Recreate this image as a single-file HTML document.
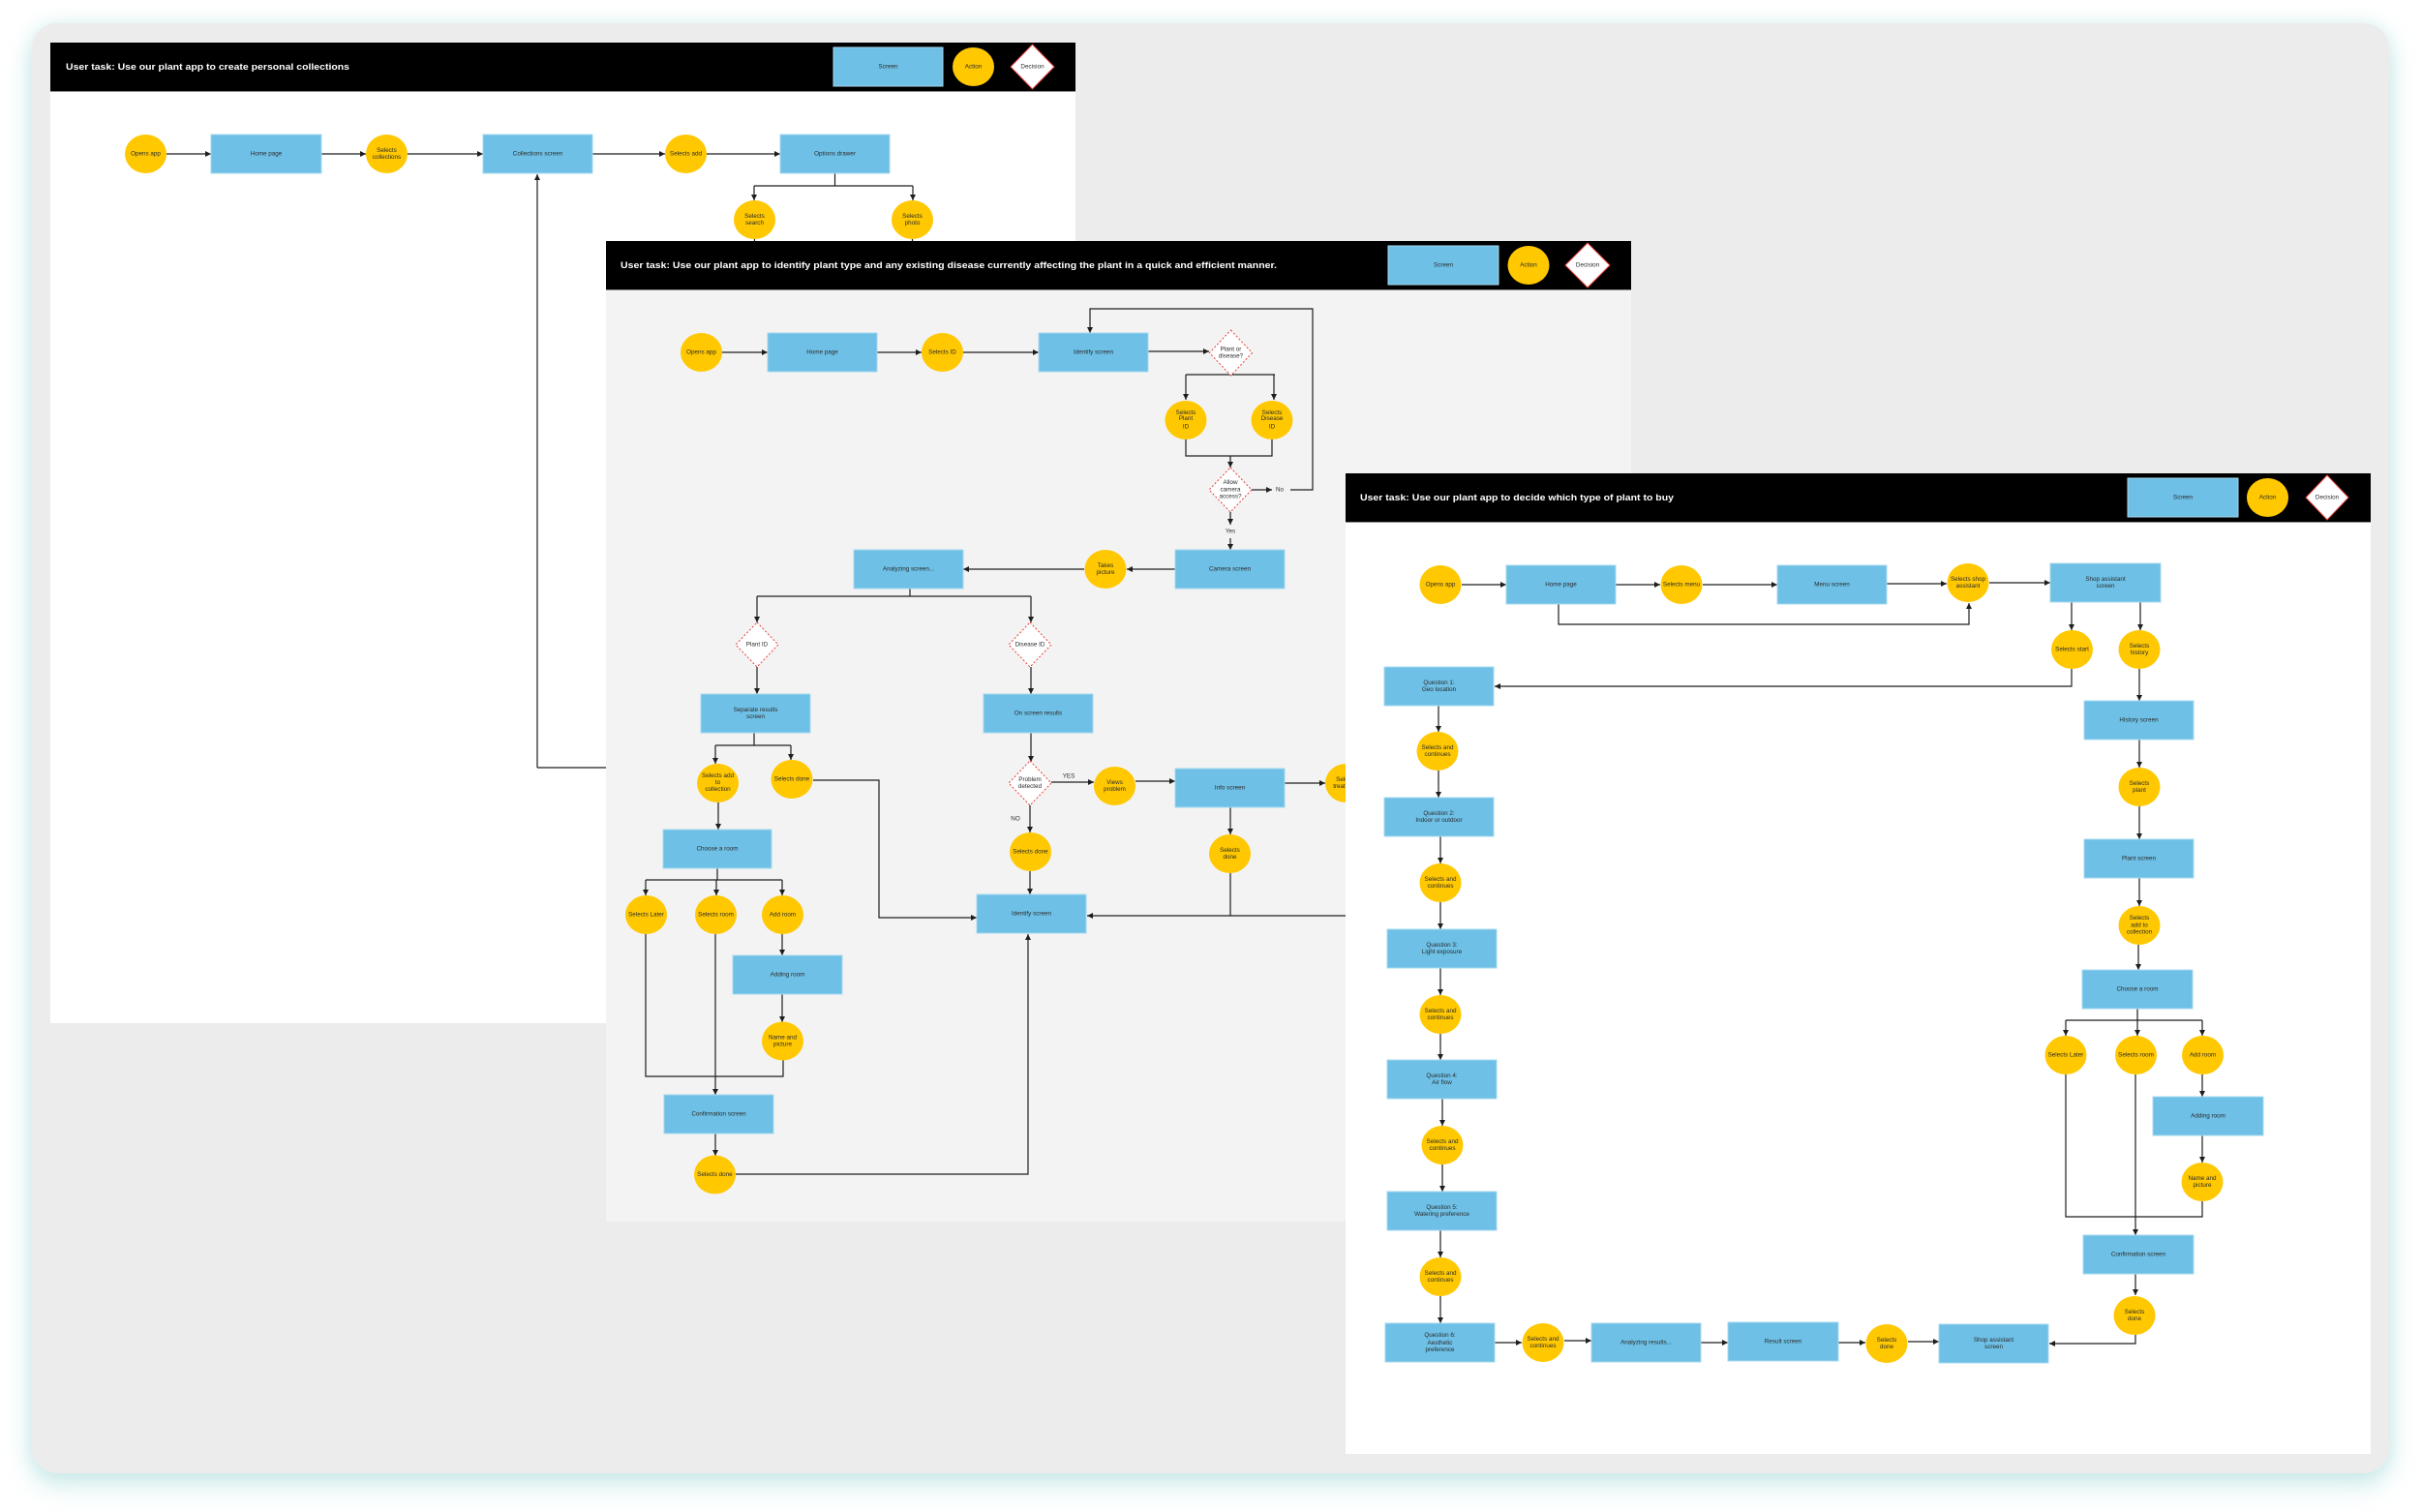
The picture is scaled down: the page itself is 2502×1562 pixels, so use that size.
<!DOCTYPE html>
<html><head><meta charset="utf-8"><style>
html,body{margin:0;padding:0;background:#fff;}
body{width:2502px;height:1562px;position:relative;overflow:hidden;}
#card{position:absolute;left:33px;top:24px;width:2435px;height:1498px;border-radius:26px;background:#ececec;box-shadow:0 12px 26px rgba(120,200,200,0.35),0 0 18px rgba(160,215,215,0.3);}
svg{position:absolute;left:0;top:0;}
.s{fill:#6ec0e6;stroke:#a6d9ef;stroke-width:1}
.c{fill:#ffc800}
.d{fill:#fff;stroke:#e8403a;stroke-width:1;stroke-dasharray:2 2}
.dl{fill:#fff;stroke:#e8403a;stroke-width:1}
.l{fill:none;stroke:#1e1e1e;stroke-width:1.2}
.a{fill:none;stroke:#1e1e1e;stroke-width:1.2;marker-end:url(#ar)}
.t{font-family:"Liberation Sans",sans-serif;font-size:6.3px;fill:#2b2b2b;text-anchor:middle;dominant-baseline:central}
.h{font-family:"Liberation Sans",sans-serif;font-size:9.5px;font-weight:bold;fill:#fff}
</style></head><body>
<div id="card"></div>
<svg width="2502" height="1562" viewBox="0 0 2502 1562" xmlns="http://www.w3.org/2000/svg">
<defs><marker id="ar" markerUnits="userSpaceOnUse" markerWidth="6" markerHeight="6" refX="6" refY="3" orient="auto"><path d="M0,0 L6,3 L0,6 z" fill="#1e1e1e"/></marker></defs>

<!-- PANEL 1 -->
<rect x="52" y="44" width="1059" height="1013" fill="#fff"/>
<rect x="52" y="44" width="1059" height="50" fill="#000"/>
<line x1="52" y1="94.5" x2="1111" y2="94.5" stroke="#8c8c8c"/>
<text class="h" x="68" y="72" textLength="293" lengthAdjust="spacingAndGlyphs">User task: Use our plant app to create personal collections</text>
<rect class="s" x="861" y="49" width="113" height="40"/><text class="t" x="917.5" y="69">Screen</text>
<ellipse class="c" cx="1005.5" cy="69" rx="21.5" ry="20"/><text class="t" x="1005.5" y="69">Action</text>
<polygon class="dl" points="1066.5,46 1089,69 1066.5,92 1044,69"/><text class="t" x="1066.5" y="69">Decision</text>

<path class="a" d="M172 159H218"/><path class="a" d="M332 159H378"/><path class="a" d="M421 159H499"/><path class="a" d="M612 159H687"/><path class="a" d="M730 159H806"/>
<path class="l" d="M862.5 179V192M779 192H943"/><path class="a" d="M779 192V207"/><path class="a" d="M943 192V207"/>
<path class="l" d="M779.5 247V260M942.5 247V260"/>
<path class="l" d="M626 793H555"/><path class="a" d="M555 793V180"/>
<ellipse class="c" cx="150.5" cy="159" rx="21.5" ry="20"/><text class="t" x="150.5" y="159">Opens app</text>
<rect class="s" x="218" y="139" width="114" height="40"/><text class="t" x="275" y="159">Home page</text>
<ellipse class="c" cx="399.5" cy="159" rx="21.5" ry="20"/><text class="t" x="399.5" y="155.5">Selects</text><text class="t" x="399.5" y="162.5">collections</text>
<rect class="s" x="499" y="139" width="113" height="40"/><text class="t" x="555.5" y="159">Collections screen</text>
<ellipse class="c" cx="708.5" cy="159" rx="21.5" ry="20"/><text class="t" x="708.5" y="159">Selects add</text>
<rect class="s" x="806" y="139" width="113" height="40"/><text class="t" x="862.5" y="159">Options drawer</text>
<ellipse class="c" cx="779.5" cy="227" rx="21.5" ry="20"/><text class="t" x="779.5" y="223.5">Selects</text><text class="t" x="779.5" y="230.5">search</text>
<ellipse class="c" cx="942.5" cy="227" rx="21.5" ry="20"/><text class="t" x="942.5" y="223.5">Selects</text><text class="t" x="942.5" y="230.5">photo</text>

<!-- PANEL 2 -->
<rect x="626" y="249" width="1059" height="1013" fill="#f3f3f3"/>
<rect x="626" y="249" width="1059" height="50" fill="#000"/>
<line x1="626" y1="299.5" x2="1685" y2="299.5" stroke="#8c8c8c"/>
<text class="h" x="641" y="277" textLength="678" lengthAdjust="spacingAndGlyphs">User task: Use our plant app to identify plant type and any existing disease currently affecting the plant in a quick and efficient manner.</text>
<rect class="s" x="1434" y="254" width="114" height="40"/><text class="t" x="1491" y="274">Screen</text>
<ellipse class="c" cx="1579" cy="274" rx="21.5" ry="20"/><text class="t" x="1579" y="274">Action</text>
<polygon class="dl" points="1640,251 1663,274 1640,297 1617,274"/><text class="t" x="1640" y="274">Decision</text>

<path class="a" d="M746 364H793"/><path class="a" d="M906 364H952"/><path class="a" d="M995 364H1073"/><path class="a" d="M1186 363H1249"/>
<path class="a" d="M1333 506H1356V319H1126V344"/>
<path class="l" d="M1225 387H1317"/><path class="a" d="M1225 387V413"/><path class="a" d="M1316 387V413"/>
<path class="l" d="M1225 454V471H1314V454"/><path class="a" d="M1271 471V483"/>
<path class="a" d="M1293 506H1314"/><text class="t" x="1322" y="506">No</text>
<path class="a" d="M1271 529V542"/><text class="t" x="1271" y="549">Yes</text><path class="a" d="M1271 556V568"/>
<path class="a" d="M1214 588H1164"/><path class="a" d="M1120 588H995"/>
<path class="l" d="M940 608V616M782 616H1065"/><path class="a" d="M782 616V643"/><path class="a" d="M1065 616V643"/>
<path class="a" d="M782 689V717"/><path class="a" d="M1065 689V717"/>
<path class="l" d="M779 757V770M739 770H817"/><path class="a" d="M739 770V789"/><path class="a" d="M817 770V785"/>
<path class="a" d="M840 806H908V948H1009"/>
<path class="a" d="M742 829V857"/>
<path class="l" d="M741 897V909M667 909H808"/><path class="a" d="M667 909V925"/><path class="a" d="M740 909V925"/><path class="a" d="M808 909V925"/>
<path class="l" d="M667 965V1112H809V1095"/>
<path class="a" d="M739 965V1131"/><path class="a" d="M808 965V987"/><path class="a" d="M808 1027V1056"/>
<path class="a" d="M739 1171V1194"/>
<path class="a" d="M760 1213H1062V965"/>
<path class="a" d="M1065 757V787"/>
<path class="a" d="M1086 808H1130"/><path class="a" d="M1173 807H1214"/><path class="a" d="M1327 809H1369"/>
<path class="a" d="M1064 832V860"/><path class="a" d="M1064 900V924"/>
<path class="a" d="M1271 834V862"/><path class="l" d="M1271 902V946"/>
<path class="a" d="M1390 946H1123"/>

<ellipse class="c" cx="724.5" cy="364" rx="21.5" ry="20"/><text class="t" x="724.5" y="364">Opens app</text>
<rect class="s" x="793" y="344" width="113" height="40"/><text class="t" x="849.5" y="364">Home page</text>
<ellipse class="c" cx="973.5" cy="364" rx="21.5" ry="20"/><text class="t" x="973.5" y="364">Selects ID</text>
<rect class="s" x="1073" y="344" width="113" height="40"/><text class="t" x="1129.5" y="364">Identify screen</text>
<polygon class="d" points="1271.5,341 1293.5,364.5 1271.5,388 1249.5,364.5"/><text class="t" x="1271.5" y="361">Plant or</text><text class="t" x="1271.5" y="368">disease?</text>
<ellipse class="c" cx="1225" cy="434" rx="21.5" ry="20"/><text class="t" x="1225" y="426.5">Selects</text><text class="t" x="1225" y="432.5">Plant</text><text class="t" x="1225" y="441">ID</text>
<ellipse class="c" cx="1314" cy="434" rx="21.5" ry="20"/><text class="t" x="1314" y="426.5">Selects</text><text class="t" x="1314" y="432.5">Disease</text><text class="t" x="1314" y="441">ID</text>
<polygon class="d" points="1271,483 1293,506 1271,529 1249,506"/><text class="t" x="1271" y="498.5">Allow</text><text class="t" x="1271" y="506">camera</text><text class="t" x="1271" y="513">access?</text>
<rect class="s" x="1214" y="568" width="113" height="40"/><text class="t" x="1270.5" y="588">Camera screen</text>
<ellipse class="c" cx="1142" cy="588" rx="21.5" ry="20"/><text class="t" x="1142" y="584.5">Takes</text><text class="t" x="1142" y="591.5">picture</text>
<rect class="s" x="882" y="568" width="113" height="40"/><text class="t" x="938.5" y="588">Analyzing screen...</text>
<polygon class="d" points="782,643 804,666 782,689 760,666"/><text class="t" x="782" y="666">Plant ID</text>
<polygon class="d" points="1064,643 1086,666 1064,689 1042,666"/><text class="t" x="1064" y="666">Disease ID</text>
<rect class="s" x="724" y="717" width="113" height="40"/><text class="t" x="780.5" y="733.5">Separate results</text><text class="t" x="780.5" y="740.5">screen</text>
<rect class="s" x="1016" y="717" width="113" height="40"/><text class="t" x="1072.5" y="737">On screen results</text>
<ellipse class="c" cx="741.5" cy="809" rx="21.5" ry="20"/><text class="t" x="741.5" y="801.5">Selects add</text><text class="t" x="741.5" y="808.5">to</text><text class="t" x="741.5" y="815.5">collection</text>
<ellipse class="c" cx="818" cy="805" rx="21.5" ry="20"/><text class="t" x="818" y="805">Selects done</text>
<rect class="s" x="685" y="857" width="112" height="40"/><text class="t" x="741" y="877">Choose a room</text>
<ellipse class="c" cx="667.5" cy="945" rx="21.5" ry="20"/><text class="t" x="667.5" y="945">Selects Later</text>
<ellipse class="c" cx="739.5" cy="945" rx="21.5" ry="20"/><text class="t" x="739.5" y="945">Selects room</text>
<ellipse class="c" cx="808.5" cy="945" rx="21.5" ry="20"/><text class="t" x="808.5" y="945">Add room</text>
<rect class="s" x="757" y="987" width="113" height="40"/><text class="t" x="813.5" y="1007">Adding room</text>
<ellipse class="c" cx="808.5" cy="1075.5" rx="21.5" ry="20"/><text class="t" x="808.5" y="1072">Name and</text><text class="t" x="808.5" y="1079">picture</text>
<rect class="s" x="686" y="1131" width="113" height="40"/><text class="t" x="742.5" y="1151">Confirmation screen</text>
<ellipse class="c" cx="738.5" cy="1213.5" rx="21.5" ry="20"/><text class="t" x="738.5" y="1213.5">Selects done</text>
<polygon class="d" points="1064,786 1086,809 1064,832 1042,809"/><text class="t" x="1064" y="805.5">Problem</text><text class="t" x="1064" y="812.5">detected</text>
<text class="t" x="1104" y="802">YES</text><text class="t" x="1049" y="846">NO</text>
<ellipse class="c" cx="1151.5" cy="812" rx="21.5" ry="20"/><text class="t" x="1151.5" y="808.5">Views</text><text class="t" x="1151.5" y="815.5">problem</text>
<rect class="s" x="1214" y="794" width="113" height="40"/><text class="t" x="1270.5" y="814">Info screen</text>
<ellipse class="c" cx="1390.5" cy="809" rx="21.5" ry="20"/><text class="t" x="1390.5" y="805.5">Selects</text><text class="t" x="1390.5" y="812.5">treatment</text>
<ellipse class="c" cx="1064.5" cy="880" rx="21.5" ry="20"/><text class="t" x="1064.5" y="880">Selects done</text>
<rect class="s" x="1009" y="924" width="113" height="40"/><text class="t" x="1065.5" y="944">Identify screen</text>
<ellipse class="c" cx="1270.5" cy="882" rx="21.5" ry="20"/><text class="t" x="1270.5" y="878.5">Selects</text><text class="t" x="1270.5" y="885.5">done</text>

<!-- PANEL 3 -->
<rect x="1390" y="489" width="1059" height="1013" fill="#fff"/>
<rect x="1390" y="489" width="1059" height="50" fill="#000"/>
<line x1="1390" y1="539.5" x2="2449" y2="539.5" stroke="#8c8c8c"/>
<text class="h" x="1405" y="517" textLength="324" lengthAdjust="spacingAndGlyphs">User task: Use our plant app to decide which type of plant to buy</text>
<rect class="s" x="2198" y="494" width="114" height="40"/><text class="t" x="2255" y="514">Screen</text>
<ellipse class="c" cx="2342.5" cy="514" rx="21.5" ry="20"/><text class="t" x="2342.5" y="514">Action</text>
<polygon class="dl" points="2404,491 2426,514 2404,537 2382,514"/><text class="t" x="2404" y="514">Decision</text>

<path class="a" d="M1510 604H1556"/><path class="a" d="M1669 604H1715"/><path class="a" d="M1759 604H1836"/><path class="a" d="M1949 603H2011"/><path class="a" d="M2055 602H2118"/>
<path class="a" d="M1610 624V645H2034V623"/>
<path class="a" d="M2140 622V651"/><path class="a" d="M2211 622V651"/>
<path class="a" d="M2140 691V709H1544"/>
<path class="a" d="M1486 729V756"/><path class="a" d="M1486 796V824"/><path class="a" d="M1488 864V892"/><path class="a" d="M1488 932V960"/>
<path class="a" d="M1488 1000V1028"/><path class="a" d="M1488 1068V1095"/><path class="a" d="M1490 1135V1163"/><path class="a" d="M1490 1203V1231"/>
<path class="a" d="M1488 1271V1299"/><path class="a" d="M1488 1339V1367"/>
<path class="a" d="M1544 1387H1572"/><path class="a" d="M1616 1385H1644"/><path class="a" d="M1757 1387H1785"/><path class="a" d="M1899 1387H1927"/><path class="a" d="M1971 1386H2003"/>
<path class="a" d="M2210 691V724"/><path class="a" d="M2210 764V793"/><path class="a" d="M2210 833V867"/><path class="a" d="M2210 907V936"/><path class="a" d="M2209 976V1002"/>
<path class="l" d="M2208 1042V1054M2134 1054H2275"/><path class="a" d="M2134 1054V1070"/><path class="a" d="M2208 1054V1070"/><path class="a" d="M2275 1054V1070"/>
<path class="a" d="M2275 1110V1133"/><path class="a" d="M2275 1173V1201"/>
<path class="l" d="M2275 1241V1257H2134V1110"/>
<path class="a" d="M2206 1110V1276"/><path class="a" d="M2206 1316V1338"/>
<path class="a" d="M2206 1379V1388H2117"/>

<ellipse class="c" cx="1488" cy="604" rx="21.5" ry="20"/><text class="t" x="1488" y="604">Opens app</text>
<rect class="s" x="1556" y="584" width="113" height="40"/><text class="t" x="1612.5" y="604">Home page</text>
<ellipse class="c" cx="1737" cy="604" rx="21.5" ry="20"/><text class="t" x="1737" y="604">Selects menu</text>
<rect class="s" x="1836" y="584" width="113" height="40"/><text class="t" x="1892.5" y="604">Menu screen</text>
<ellipse class="c" cx="2033" cy="602" rx="21.5" ry="20"/><text class="t" x="2033" y="598.5">Selects shop</text><text class="t" x="2033" y="605.5">assistant</text>
<rect class="s" x="2118" y="582" width="114" height="40"/><text class="t" x="2175" y="598.5">Shop assistant</text><text class="t" x="2175" y="605.5">screen</text>
<ellipse class="c" cx="2140.5" cy="671" rx="21.5" ry="20"/><text class="t" x="2140.5" y="671">Selects start</text>
<ellipse class="c" cx="2210" cy="671" rx="21.5" ry="20"/><text class="t" x="2210" y="667.5">Selects</text><text class="t" x="2210" y="674.5">history</text>
<rect class="s" x="1430" y="689" width="113" height="40"/><text class="t" x="1486.5" y="705.5">Question 1:</text><text class="t" x="1486.5" y="712.5">Geo location</text>
<ellipse class="c" cx="1485" cy="776" rx="21.5" ry="20"/><text class="t" x="1485" y="772.5">Selects and</text><text class="t" x="1485" y="779.5">continues</text>
<rect class="s" x="1430" y="824" width="113" height="40"/><text class="t" x="1486.5" y="840.5">Question 2:</text><text class="t" x="1486.5" y="847.5">Indoor or outdoor</text>
<ellipse class="c" cx="1488" cy="912" rx="21.5" ry="20"/><text class="t" x="1488" y="908.5">Selects and</text><text class="t" x="1488" y="915.5">continues</text>
<rect class="s" x="1433" y="960" width="113" height="40"/><text class="t" x="1489.5" y="976.5">Question 3:</text><text class="t" x="1489.5" y="983.5">Light exposure</text>
<ellipse class="c" cx="1488" cy="1048" rx="21.5" ry="20"/><text class="t" x="1488" y="1044.5">Selects and</text><text class="t" x="1488" y="1051.5">continues</text>
<rect class="s" x="1433" y="1095" width="113" height="40"/><text class="t" x="1489.5" y="1111.5">Question 4:</text><text class="t" x="1489.5" y="1118.5">Air flow</text>
<ellipse class="c" cx="1490" cy="1183" rx="21.5" ry="20"/><text class="t" x="1490" y="1179.5">Selects and</text><text class="t" x="1490" y="1186.5">continues</text>
<rect class="s" x="1433" y="1231" width="113" height="40"/><text class="t" x="1489.5" y="1247.5">Question 5:</text><text class="t" x="1489.5" y="1254.5">Watering preference</text>
<ellipse class="c" cx="1488" cy="1319" rx="21.5" ry="20"/><text class="t" x="1488" y="1315.5">Selects and</text><text class="t" x="1488" y="1322.5">continues</text>
<rect class="s" x="1431" y="1367" width="113" height="40"/><text class="t" x="1487.5" y="1379.5">Question 6:</text><text class="t" x="1487.5" y="1387.5">Aesthetic</text><text class="t" x="1487.5" y="1394.5">preference</text>
<ellipse class="c" cx="1594" cy="1387" rx="21.5" ry="20"/><text class="t" x="1594" y="1383.5">Selects and</text><text class="t" x="1594" y="1390.5">continues</text>
<rect class="s" x="1644" y="1367" width="113" height="40"/><text class="t" x="1700.5" y="1387">Analyzing results...</text>
<rect class="s" x="1785" y="1366" width="114" height="40"/><text class="t" x="1842" y="1386">Result screen</text>
<ellipse class="c" cx="1949" cy="1388" rx="21.5" ry="20"/><text class="t" x="1949" y="1384.5">Selects</text><text class="t" x="1949" y="1391.5">done</text>
<rect class="s" x="2003" y="1368" width="113" height="40"/><text class="t" x="2059.5" y="1384.5">Shop assistant</text><text class="t" x="2059.5" y="1391.5">screen</text>
<rect class="s" x="2153" y="724" width="113" height="40"/><text class="t" x="2209.5" y="744">History screen</text>
<ellipse class="c" cx="2210" cy="813" rx="21.5" ry="20"/><text class="t" x="2210" y="809.5">Selects</text><text class="t" x="2210" y="816.5">plant</text>
<rect class="s" x="2153" y="867" width="113" height="40"/><text class="t" x="2209.5" y="887">Plant screen</text>
<ellipse class="c" cx="2210" cy="956" rx="21.5" ry="20"/><text class="t" x="2210" y="948.5">Selects</text><text class="t" x="2210" y="956">add to</text><text class="t" x="2210" y="963">collection</text>
<rect class="s" x="2151" y="1002" width="114" height="40"/><text class="t" x="2208" y="1022">Choose a room</text>
<ellipse class="c" cx="2134" cy="1090" rx="21.5" ry="20"/><text class="t" x="2134" y="1090">Selects Later</text>
<ellipse class="c" cx="2206.5" cy="1090" rx="21.5" ry="20"/><text class="t" x="2206.5" y="1090">Selects room</text>
<ellipse class="c" cx="2275.5" cy="1090" rx="21.5" ry="20"/><text class="t" x="2275.5" y="1090">Add room</text>
<rect class="s" x="2224" y="1133" width="114" height="40"/><text class="t" x="2281" y="1153">Adding room</text>
<ellipse class="c" cx="2275" cy="1221" rx="21.5" ry="20"/><text class="t" x="2275" y="1217.5">Name and</text><text class="t" x="2275" y="1224.5">picture</text>
<rect class="s" x="2152" y="1276" width="114" height="40"/><text class="t" x="2209" y="1296">Confirmation screen</text>
<ellipse class="c" cx="2205" cy="1359" rx="21.5" ry="20"/><text class="t" x="2205" y="1355.5">Selects</text><text class="t" x="2205" y="1362.5">done</text>
</svg>
</body></html>
